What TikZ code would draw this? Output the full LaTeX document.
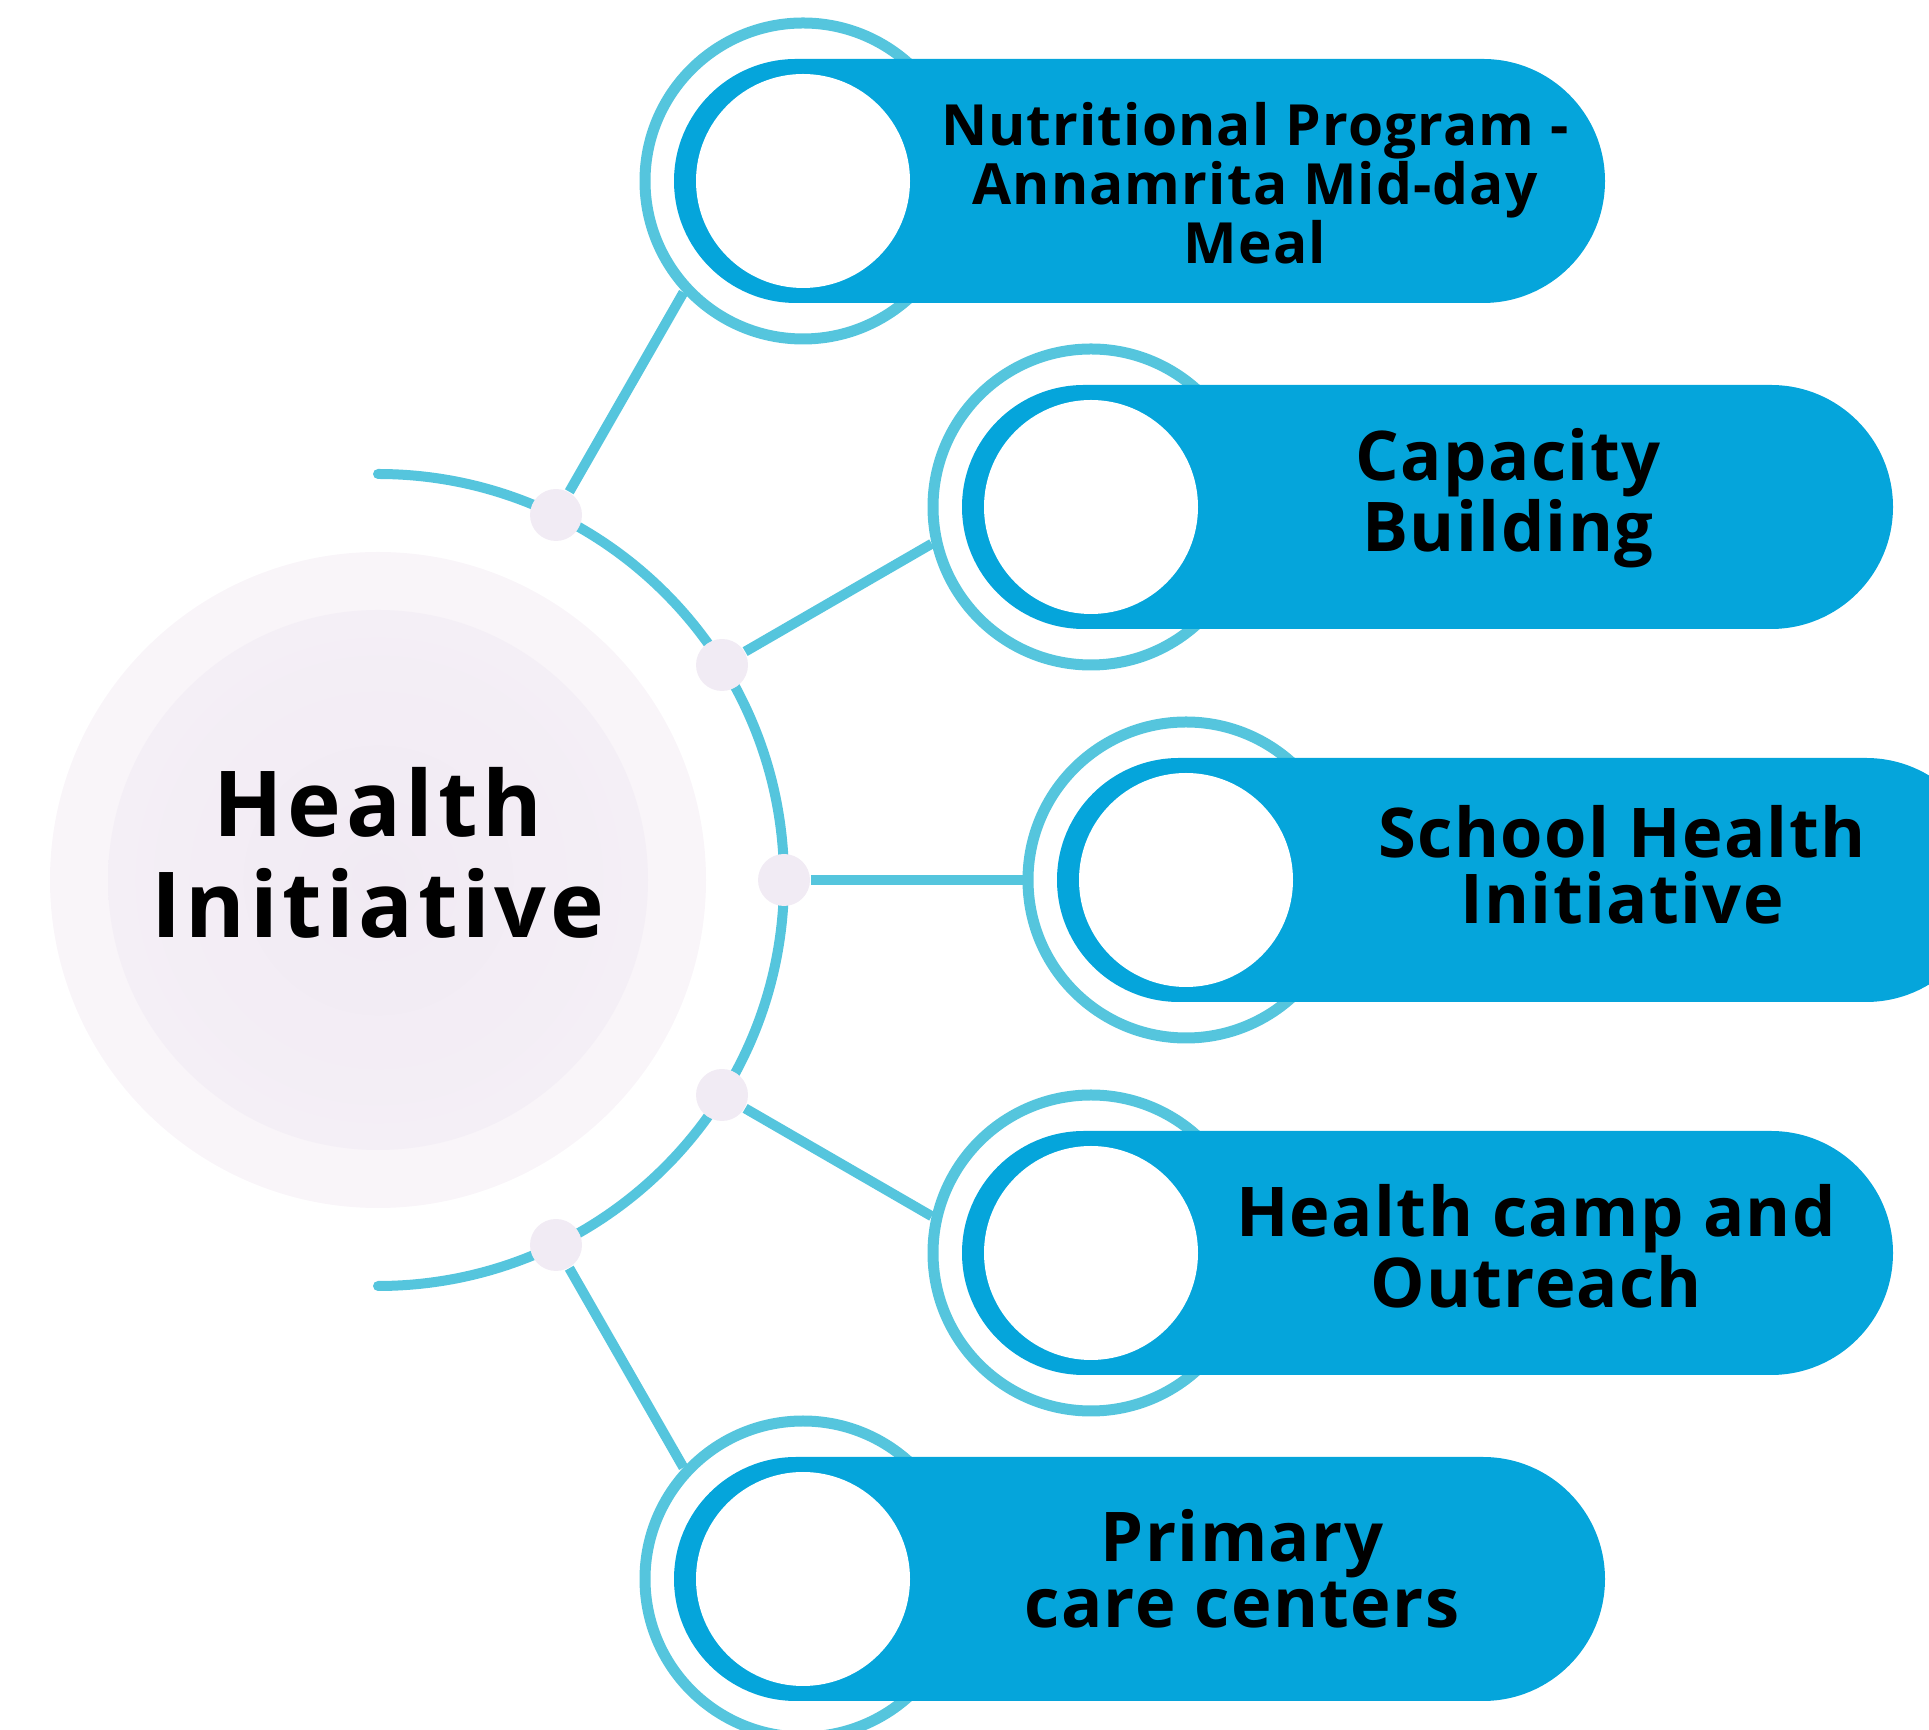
\documentclass[tikz,border=0pt]{standalone}
\usepackage{fontspec}
\setmainfont{Open Sans}
\newfontfamily\hubfont{Open Sans}[LetterSpace=5]
\newfontfamily\itemfont{Open Sans}[LetterSpace=2]
\usetikzlibrary{backgrounds}

\definecolor{pillblue}{HTML}{05A5DB}
\definecolor{ringblue}{HTML}{55C5DD}
\definecolor{dotgrey}{HTML}{F1EBF4}
\definecolor{hubouter}{HTML}{F9F5F9}
\definecolor{hubinner}{HTML}{F4EFF6}
\definecolor{hubcore}{HTML}{F1EAF3}

\tikzset{every picture/.style={line width=0.75pt}}

\begin{document}
\begin{tikzpicture}[x=0.5pt,y=0.5pt,
  link/.style={color=ringblue, line width=5pt},
  knot/.style={circle, fill=dotgrey, minimum size=26pt, inner sep=0pt},
  ring/.style={circle, draw=ringblue, fill=white, line width=5.5pt, minimum size=158pt, inner sep=0pt},
  hole/.style={circle, fill=white, minimum size=107pt, inner sep=0pt},
  pill/.style={fill=pillblue, rounded corners=61pt},
  itemtext/.style={font=\itemfont\bfseries\fontsize{34.3}{32.75}\selectfont, align=center, inner sep=0pt},
]
\useasboundingbox (0,0) rectangle (1929,1730);
\clip (0,0) rectangle (1929,1730);

%Hub circles
\node [circle, fill=hubouter, minimum size=328pt, inner sep=0pt] (hub) at (378,850) {};
\node [circle, minimum size=270pt, inner sep=0pt, inner color=hubcore, outer color=hubinner] (hubin) at (hub) {};
% Text Node
\node [font=\hubfont\bfseries\fontsize{45.5}{50.5}\selectfont, align=center, inner sep=0pt] (title) at (378,877) {Health\\Initiative};

%Knots on the arc
\node [knot] (d1) at (556,1215) {};
\node [knot] (d2) at (722,1065) {};
\node [knot] (d3) at (784,850) {};
\node [knot] (d4) at (722,635) {};
\node [knot] (d5) at (556,485) {};

%Rings
\node [ring] (r1) at (803,1549) {};
\node [ring] (r2) at (1091,1223) {};
\node [ring] (r3) at (1186,850) {};
\node [ring] (r4) at (1091,477) {};
\node [ring] (r5) at (803,151) {};

%Arc and links
\begin{scope}[on background layer]
\draw [link, line cap=round] (378,1256) arc [start angle=90, end angle=-90, radius=203pt];
\draw [link] (d1) -- (r1.223);
\draw [link] (d2) -- (r2.193);
\draw [link] (d3) -- (r3.180);
\draw [link] (d4) -- (r4.167);
\draw [link] (d5) -- (r5.137);
\end{scope}

%Pills
\fill [pill] (674,1427) rectangle (1605,1671);
\fill [pill] (962,1101) rectangle (1893,1345);
\fill [pill] (1057,728) rectangle (1988,972);
\fill [pill] (962,355) rectangle (1893,599);
\fill [pill] (674,29) rectangle (1605,273);

%Holes
\node [hole] (h1) at (r1) {};
\node [hole] (h2) at (r2) {};
\node [hole] (h3) at (r3) {};
\node [hole] (h4) at (r4) {};
\node [hole] (h5) at (r5) {};

% Text Node
\node [itemtext, font=\itemfont\bfseries\fontsize{28.4}{29.5}\selectfont] (t1) at (1255,1547) {Nutritional Program -\\Annamrita Mid-day\\Meal};
% Text Node
\node [itemtext] (t2) at (1508,1232) {Capacity\\Building};
% Text Node
\node [itemtext] (t3) at (1622,865) {School Health\\Initiative};
% Text Node
\node [itemtext] (t4) at (1536,484) {Health camp and\\Outreach};
% Text Node
\node [itemtext] (t5) at (1242,161) {Primary\\care centers};

\end{tikzpicture}
\end{document}
